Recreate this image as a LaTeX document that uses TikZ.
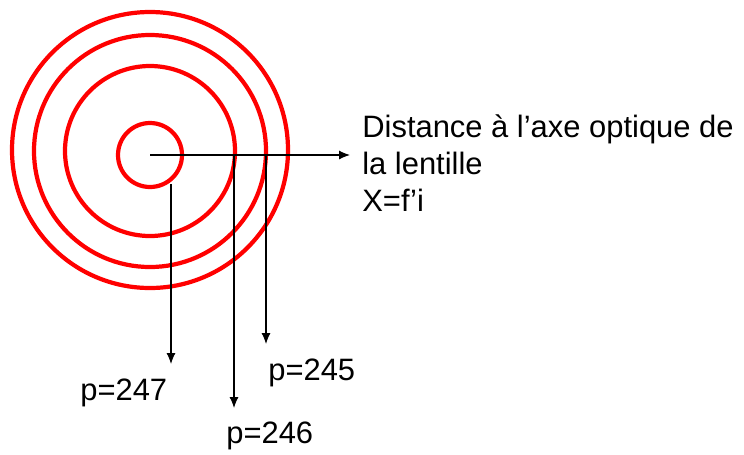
\documentclass[tikz,border=0pt]{standalone}
\usepackage{fontspec}
\setmainfont{Liberation Sans}
\usetikzlibrary{arrows.meta}

\begin{document}
\begin{tikzpicture}[
  x=0.02cm, y=-0.02cm,
  >={Latex[length=2.2mm,width=1.8mm]},
  ring/.style={red, line width=2.4pt},
  ray/.style={->, black, line width=0.6pt},
  lbl/.style={font=\fontsize{17.6}{21.2}\selectfont, inner sep=0pt, anchor=base west}
]
\useasboundingbox (0,0) rectangle (744,454);

% ----- anneaux -----
\coordinate (O) at (150,155);
\draw[ring] (O) circle (32);
\draw[ring] (150,151) circle (85);
\draw[ring] (150,151) circle (116);
\draw[ring] (150,150) circle (138);

% ----- axe horizontal -----
\coordinate (axe) at (350,155);
\draw[ray] (O) -- (axe);
\node[lbl, anchor=north west, align=left] (dist) at (362,114)
  {Distance à l’axe optique de\\la lentille\\X=f’i};

% ----- fleches verticales -----
\coordinate (s7) at (171,184);
\coordinate (s6) at (234,155);
\coordinate (s5) at (266,155);
\coordinate (t7) at (171,364);
\coordinate (t6) at (234,408);
\coordinate (t5) at (266,344);
\draw[ray] (s7) -- (t7);
\draw[ray] (s6) -- (t6);
\draw[ray] (s5) -- (t5);

% ----- etiquettes -----
\node[lbl] (p247) at (80,400) {p=247};
\node[lbl] (p246) at (226,443) {p=246};
\node[lbl] (p245) at (268,380) {p=245};
\end{tikzpicture}
\end{document}
